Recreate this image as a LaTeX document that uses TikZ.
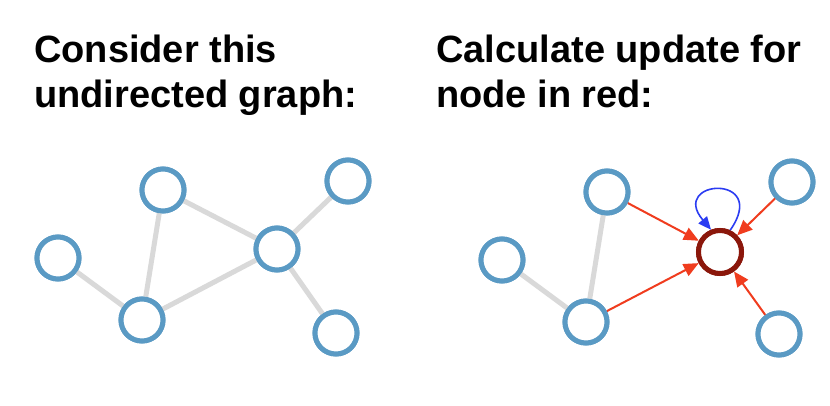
\documentclass[tikz,border=0pt]{standalone}
\usepackage{fontspec}
\setmainfont{Liberation Sans}
\usetikzlibrary{arrows.meta}
\definecolor{nodeblue}{HTML}{5A9AC4}
\definecolor{edgegray}{HTML}{D9D9D9}
\definecolor{arrowred}{HTML}{F03C1E}
\definecolor{darkred}{HTML}{8B170B}
\definecolor{loopblue}{HTML}{2B3CF2}
\tikzset{
  gnode/.style={circle,draw=nodeblue,line width=5pt,fill=white,minimum size=42pt,inner sep=0pt},
  rnode/.style={circle,draw=darkred,line width=5pt,fill=white,minimum size=43pt,inner sep=0pt},
  gedge/.style={draw=edgegray,line width=5pt},
  redarrow/.style={draw=arrowred,line width=2pt,-{Triangle[length=15pt,width=13pt]}},
  looparrow/.style={draw=loopblue,line width=1.6pt,-{Triangle[length=13pt,width=11pt]}},
  title/.style={font=\bfseries\fontsize{38}{45}\selectfont,anchor=base west,inner sep=0pt,text=black}
}
\begin{document}
\begin{tikzpicture}[x=1pt,y=1pt]
\useasboundingbox[fill=white] (0,0) rectangle (830,-405);
% titles
\node[title] (t1a) at (34,-62) {Consider this};
\node[title] (t1b) at (34,-107) {undirected graph:};
\node[title] (t2a) at (436,-62) {Calculate update for};
\node[title] (t2b) at (436,-107) {node in red:};
% left graph
\node[gnode] (a) at (163,-190) {};
\node[gnode] (b) at (58,-258) {};
\node[gnode] (c) at (142,-320) {};
\node[gnode] (d) at (277,-249) {};
\node[gnode] (e) at (348,-181) {};
\node[gnode] (f) at (336,-333) {};
% right graph
\node[gnode] (a2) at (607,-192) {};
\node[gnode] (b2) at (502,-260) {};
\node[gnode] (c2) at (586,-322) {};
\node[rnode] (r) at (720,-252) {};
\node[gnode] (e2) at (792,-182) {};
\node[gnode] (f2) at (779,-334) {};
% edges left
\draw[gedge] (a) -- (c);
\draw[gedge] (a) -- (d);
\draw[gedge] (b) -- (c);
\draw[gedge] (c) -- (d);
\draw[gedge] (d) -- (e);
\draw[gedge] (d) -- (f);
% edges right
\draw[gedge] (b2) -- (c2);
\draw[gedge] (a2) -- (c2);
\draw[redarrow] (a2) -- (r);
\draw[redarrow] (c2) -- (r);
\draw[redarrow] (e2) -- (r);
\draw[redarrow] (f2) -- (r);
\draw[looparrow] (r.65) .. controls +(55:70) and +(130:66) .. (r.112);
% redraw nodes on top
\node[gnode] at (a) {};
\node[gnode] at (b) {};
\node[gnode] at (c) {};
\node[gnode] at (d) {};
\node[gnode] at (e) {};
\node[gnode] at (f) {};
\node[gnode] at (a2) {};
\node[gnode] at (b2) {};
\node[gnode] at (c2) {};
\node[rnode] at (r) {};
\node[gnode] at (e2) {};
\node[gnode] at (f2) {};
\end{tikzpicture}
\end{document}
